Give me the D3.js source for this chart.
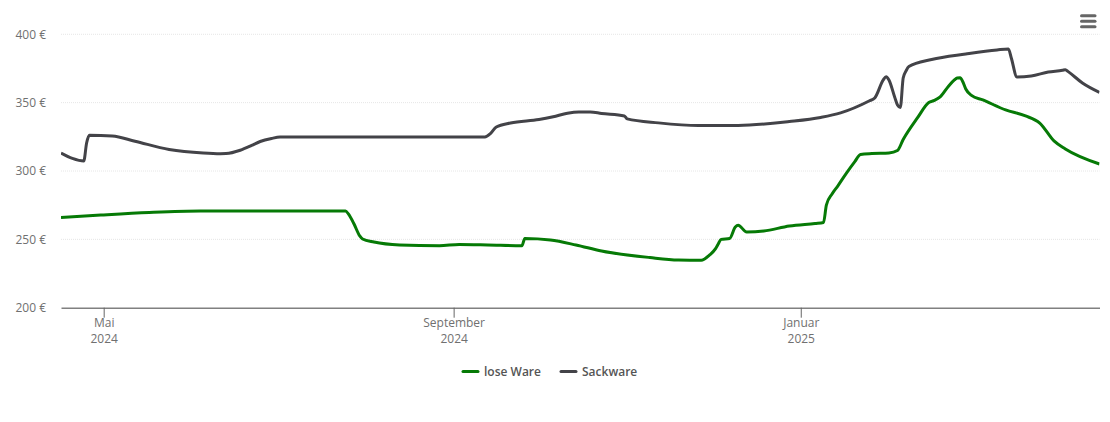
<!DOCTYPE html>
<html>
<head>
<meta charset="utf-8">
<script src="https://cdn.jsdelivr.net/npm/d3@7"></script>
<style>
  html, body { margin: 0; padding: 0; background: #fff; }
  text { font-family: "Open Sans", sans-serif; }
</style>
</head>
<body>
<div id="chart"></div>
<script>
var seriesNames = ["lose Ware", "Sackware"];
var seriesColors = ["#067a06", "#434348"];

var loseDates = ["2024-04-16","2024-04-30","2024-05-17","2024-06-04","2024-07-25","2024-07-26","2024-07-28","2024-07-30","2024-07-31","2024-08-04","2024-08-13","2024-08-27","2024-09-03","2024-09-13","2024-09-25","2024-09-26","2024-10-05","2024-10-14","2024-10-23","2024-11-09","2024-11-19","2024-11-27","2024-11-30","2024-12-02","2024-12-03","2024-12-04","2024-12-07","2024-12-09","2024-12-10","2024-12-13","2024-12-19","2024-12-28","2025-01-06","2025-01-09","2025-01-10","2025-01-12","2025-01-14","2025-01-17","2025-01-20","2025-01-22","2025-01-26","2025-02-01","2025-02-04","2025-02-06","2025-02-11","2025-02-15","2025-02-17","2025-02-19","2025-02-22","2025-02-24","2025-02-25","2025-02-26","2025-02-27","2025-02-28","2025-03-02","2025-03-06","2025-03-14","2025-03-21","2025-03-26","2025-03-31","2025-04-04","2025-04-16"];
var loseValues = [266,267.8,269.7,270.8,270.8,268.6,261.2,252.5,250.3,248,245.9,245.4,246.2,245.9,245.4,250.6,249.5,245.9,241.5,236.7,234.9,234.7,238.6,243,246.6,250,250.6,259,260.3,255.4,256.1,259.8,261.6,262.3,275.1,283.2,289,298.3,306.9,312.1,312.8,313.2,315,323,338.8,350.1,351.6,354.2,362.2,366.6,368.1,368.3,365.1,360,355.3,352,344.7,340.3,335.1,322,316.1,305.1];

var sackDates = ["2024-04-16","2024-04-20","2024-04-24","2024-04-25","2024-04-26","2024-05-04","2024-05-12","2024-05-24","2024-06-05","2024-06-11","2024-06-13","2024-06-18","2024-06-22","2024-06-25","2024-06-29","2024-07-02","2024-07-09","2024-09-12","2024-09-14","2024-09-16","2024-09-21","2024-10-01","2024-10-06","2024-10-11","2024-10-15","2024-10-19","2024-10-23","2024-10-31","2024-11-01","2024-11-12","2024-11-26","2024-12-10","2024-12-28","2025-01-08","2025-01-15","2025-01-25","2025-01-27","2025-01-30","2025-01-31","2025-02-01","2025-02-03","2025-02-04","2025-02-05","2025-02-06","2025-02-07","2025-02-08","2025-02-16","2025-02-28","2025-03-11","2025-03-15","2025-03-16","2025-03-18","2025-03-23","2025-03-29","2025-04-03","2025-04-04","2025-04-05","2025-04-10","2025-04-16"];
var sackValues = [313.2,309.2,307.3,320.5,326.1,325.6,321.8,315.8,313.2,312.7,312.8,315.2,318.7,321.6,323.8,324.8,324.9,324.9,327.5,332.2,335.1,337.6,339.7,342.3,343.2,343.2,342.1,340.3,338.1,335.2,333.3,333.3,336.2,339.2,342.5,351.2,353.4,366.6,369,366.6,354.2,348.3,346.5,368,373.2,376.5,381.6,385.6,388.6,389.3,382.7,368.8,369.5,372.4,373.7,374.1,372.7,364.4,357.5];

var yTicks = [200, 250, 300, 350, 400];
var xTicks = ["2024-05-01", "2024-09-01", "2025-01-01"];
var xTickLabels = [["Mai", "2024"], ["September", "2024"], ["Januar", "2025"]];

var width = 1110, height = 422;
var left = 61, right = 1099.5, top_ = 34.3, bottom = 307.7;
var parseDate = d3.utcParse("%Y-%m-%d");

var x = d3.scaleUtc()
  .domain([parseDate("2024-04-16"), parseDate("2025-04-16")])
  .range([left, right]);

var y = d3.scaleLinear()
  .domain([200, 400])
  .range([bottom, top_]);

var svg = d3.select("#chart")
  .append("svg")
  .attr("width", width)
  .attr("height", height)
  .style("display", "block");

svg.append("defs").append("clipPath")
  .attr("id", "plot")
  .append("rect")
  .attr("x", left)
  .attr("y", 0)
  .attr("width", right - left)
  .attr("height", height);

// grid
svg.append("g")
  .selectAll("line")
  .data(yTicks.slice(1))
  .join("line")
  .attr("x1", left)
  .attr("x2", right)
  .attr("y1", function(d) { return y(d); })
  .attr("y2", function(d) { return y(d); })
  .attr("stroke", "#e6e6e6")
  .attr("stroke-dasharray", "1,1");

// y axis
var yAxis = svg.append("g")
  .attr("transform", "translate(" + left + ",0)")
  .call(d3.axisLeft(y).tickValues(yTicks).tickSize(0).tickPadding(15).tickFormat(function(d) { return d + " €"; }));
yAxis.select(".domain").remove();
yAxis.selectAll("text")
  .attr("fill", "#707070")
  .style("font-size", "12px")
  .style("font-family", '"Open Sans", sans-serif');

// x axis
var xAxis = svg.append("g")
  .attr("transform", "translate(0," + bottom + ")")
  .call(d3.axisBottom(x).tickValues(xTicks.map(parseDate)).tickSizeInner(10).tickSizeOuter(0).tickFormat(""));
xAxis.select(".domain").attr("stroke", "#808080").attr("stroke-width", 1.5);
xAxis.selectAll(".tick line").attr("stroke", "#666");
xAxis.selectAll(".tick").each(function(d, i) {
  var label = d3.select(this).append("text")
    .attr("text-anchor", "middle")
    .attr("fill", "#707070")
    .style("font-size", "12px")
    .style("font-family", '"Open Sans", sans-serif');
  xTickLabels[i].forEach(function(t, j) {
    label.append("tspan").attr("x", 0).attr("y", 19.5 + j * 15.5).text(t);
  });
});

// lines
var line = d3.line()
  .x(function(d) { return x(d.date); })
  .y(function(d) { return y(d.value); })
  .curve(d3.curveMonotoneX);

function toPoints(dates, values) {
  return dates.map(function(d, i) { return {date: parseDate(d), value: values[i]}; });
}

var lines = [toPoints(loseDates, loseValues), toPoints(sackDates, sackValues)];

svg.append("g")
  .attr("clip-path", "url(#plot)")
  .selectAll("path")
  .data(lines)
  .join("path")
  .attr("d", line)
  .attr("fill", "none")
  .attr("stroke-width", 3)
  .attr("stroke-linejoin", "round")
  .attr("stroke", function(d, i) { return seriesColors[i]; });

// legend
var legendX = [463, 561];
var legend = svg.append("g")
  .selectAll("g")
  .data(seriesNames)
  .join("g")
  .attr("transform", function(d, i) { return "translate(" + legendX[i] + ",371.5)"; });
legend.append("line")
  .attr("x1", 0)
  .attr("x2", 15)
  .attr("stroke-width", 3)
  .attr("stroke-linecap", "round")
  .attr("stroke", function(d, i) { return seriesColors[i]; });
legend.append("text")
  .attr("x", 21)
  .attr("dy", "0.35em")
  .attr("fill", "#555")
  .style("font-size", "12px")
  .style("font-weight", "600")
  .text(function(d) { return d; });

// menu button
svg.append("g")
  .selectAll("line")
  .data([15.7, 21.3, 26.7])
  .join("line")
  .attr("x1", 1081.5)
  .attr("x2", 1095)
  .attr("y1", function(d) { return d; })
  .attr("y2", function(d) { return d; })
  .attr("stroke", "#666")
  .attr("stroke-width", 3)
  .attr("stroke-linecap", "round");
</script>
</body>
</html>
